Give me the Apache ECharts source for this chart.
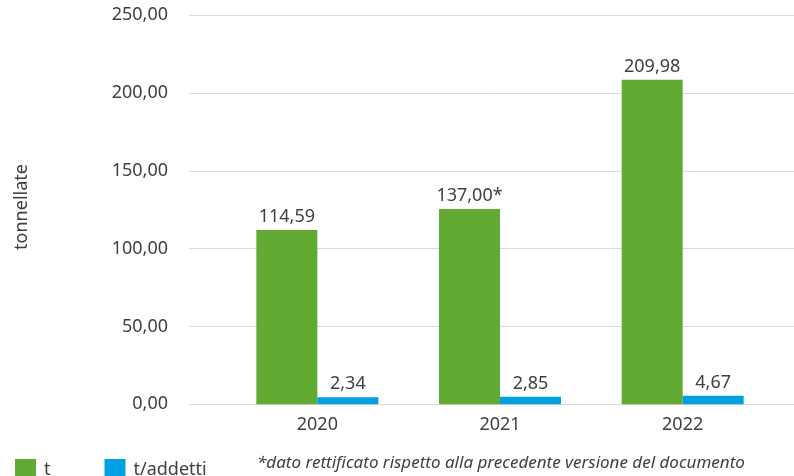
<!DOCTYPE html>
<html><head><meta charset="utf-8">
<script src="https://cdn.jsdelivr.net/npm/echarts@6/dist/echarts.min.js"></script>
<style>html,body{margin:0;padding:0;background:#fff}#c{width:794px;height:476px}</style>
</head><body><div id="c"></div>
<script>
const categories = ['2020', '2021', '2022'];
const seriesNames = ['t', 't/addetti'];
// bar heights as drawn in the picture
const valuesT = [112.0, 125.5, 208.5];
const valuesTAdd = [4.6, 4.9, 5.5];
// value labels as printed
const labelsT = ['114,59', '137,00*', '209,98'];
const labelsTAdd = ['2,34', '2,85', '4,67'];
const yTicks = [0, 50, 100, 150, 200, 250];
const axisTitle = 'tonnellate';
const note = '*dato rettificato rispetto alla precedente versione del documento';

const FONT = 'Noto Sans';
const TXT = '#404040';
const chart = echarts.init(document.getElementById('c'));
const fmt = v => v.toFixed(2).replace('.', ',');
chart.setOption({
  animation: false,
  textStyle: { fontFamily: FONT },
  grid: [
    { left: 189, right: 0, top: 15.3, bottom: 71.7 },
    { left: 226, right: 20, top: 15.3, bottom: 71.7 }
  ],
  xAxis: [
    { gridIndex: 0, type: 'value', show: false, min: 0, max: 1 },
    { gridIndex: 1, type: 'category', data: categories,
      axisLine: { show: false }, axisTick: { show: false },
      axisLabel: { color: TXT, fontSize: 18, fontFamily: FONT, margin: 12 } }
  ],
  yAxis: [
    { gridIndex: 0, type: 'value', min: yTicks[0], max: yTicks[yTicks.length - 1], interval: 50,
      axisLine: { show: false }, axisTick: { show: false },
      axisLabel: { color: TXT, fontSize: 18, fontFamily: FONT, margin: 21, formatter: fmt },
      splitLine: { lineStyle: { color: '#d9d9d9', width: 1 } } },
    { gridIndex: 1, type: 'value', min: 0, max: 250, show: false, splitLine: { show: false } }
  ],
  legend: {
    left: 10, top: 454, itemWidth: 21, itemHeight: 21, itemGap: 54,
    icon: 'rect',
    textStyle: { color: TXT, fontSize: 18, fontFamily: FONT, padding: [0, 0, 0, 3] },
    data: seriesNames
  },
  graphic: [
    { type: 'text', x: 22, y: 207, rotation: Math.PI / 2,
      style: { text: axisTitle, fill: TXT, font: '18px "Noto Sans"', textAlign: 'center', textVerticalAlign: 'middle' } },
    { type: 'text', left: 257, top: 455,
      style: { text: note, fill: TXT, font: 'italic 17px "Noto Sans"' } }
  ],
  series: [
    { name: seriesNames[0], type: 'bar', xAxisIndex: 1, yAxisIndex: 1, data: valuesT,
      barWidth: 61, barGap: '0%', itemStyle: { color: '#62AA32' },
      label: { show: true, position: 'top', distance: 4, color: TXT, fontSize: 18, fontFamily: FONT,
        formatter: p => labelsT[p.dataIndex] } },
    { name: seriesNames[1], type: 'bar', xAxisIndex: 1, yAxisIndex: 1, data: valuesTAdd,
      barWidth: 61, barGap: '0%', itemStyle: { color: '#00A0E3' },
      label: { show: true, position: 'top', distance: 4, color: TXT, fontSize: 18, fontFamily: FONT,
        formatter: p => labelsTAdd[p.dataIndex] } }
  ]
});
</script></body></html>
